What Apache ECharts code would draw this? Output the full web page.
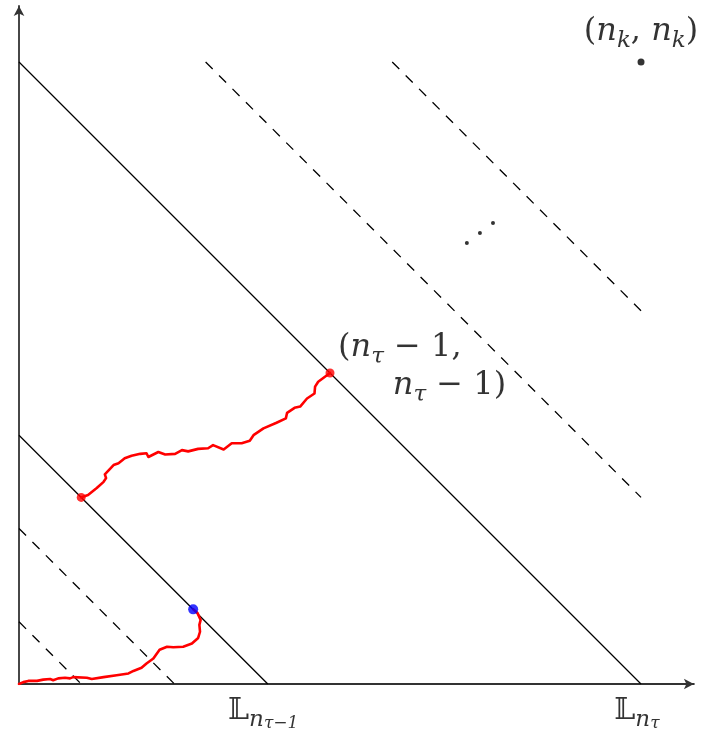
<!DOCTYPE html>
<html>
<head>
<meta charset="utf-8">
<script src="https://cdn.jsdelivr.net/npm/echarts@6.0.0/dist/echarts.min.js"></script>
<style>
html, body { margin: 0; padding: 0; background: #fff; }
#main { width: 701px; height: 736px; }
</style>
</head>
<body>
<div id="main"></div>
<script>
// units: n_tau = 10, everything lives on the lines x + y = level
var boxMax = 10;
var solidLevels = [4, 10];
var dashedLevels = [1, 2.5, 13, 16];

// red walk from the origin to the blue point
var walkLow = [[0,0],[0.07,0.03],[0.15,0.05],[0.29,0.05],[0.39,0.07],[0.50,0.08],[0.55,0.06],
  [0.63,0.09],[0.74,0.10],[0.82,0.09],[0.87,0.11],[1.09,0.10],[1.17,0.08],[1.36,0.11],
  [1.57,0.14],[1.76,0.17],[1.84,0.21],[1.97,0.26],[2.05,0.33],[2.16,0.41],[2.26,0.55],
  [2.38,0.60],[2.48,0.59],[2.64,0.60],[2.78,0.65],[2.88,0.74],[2.91,0.84],[2.90,0.95],
  [2.92,1.03],[2.87,1.14],[2.8,1.2]];

// red walk from (1,3) on L_{n_tau-1} to (n_tau-1, n_tau-1)
var walkHigh = [[1,3],[1.11,3.04],[1.25,3.15],[1.36,3.25],[1.40,3.31],[1.38,3.37],[1.52,3.52],
  [1.60,3.55],[1.70,3.63],[1.81,3.67],[1.95,3.70],[2.05,3.71],[2.08,3.65],[2.24,3.73],
  [2.35,3.69],[2.51,3.70],[2.62,3.76],[2.72,3.74],[2.88,3.78],[3.04,3.79],[3.12,3.84],
  [3.29,3.77],[3.42,3.87],[3.58,3.87],[3.71,3.91],[3.77,4.00],[3.93,4.11],[4.14,4.20],
  [4.29,4.27],[4.31,4.36],[4.43,4.44],[4.52,4.46],[4.63,4.59],[4.75,4.67],[4.76,4.78],
  [4.81,4.86],[5,5]];

var redPoints = [[1,3],[5,5]];
var bluePoints = [[2.8,1.2]];
var cornerPoints = [[10,10]];
var dotsPoints = [[7.20,7.09],[7.41,7.25],[7.62,7.41]];

// text anchors
var labelTexts = [
  '{p|(}{i|n}{s|k}{p|, }{i|n}{s|k}{p|)}',
  '{p|(}{i|n}{s|τ}{p| − 1,}',
  '{i|n}{s|τ}{p| − 1)}',
  '{L|𝕃}{s|n}{ss|τ−1}',
  '{L|𝕃}{s|n}{ss|τ}'
];
var labelPos = [[10, 10.48], [5.13, 5.40], [6.01, 4.79], [3.36, -0.43], [9.57, -0.43]];
var labelAlign = ['center', 'left', 'left', 'left', 'left'];

function levelSegment(c) {
  return [[Math.max(0, c - boxMax), Math.min(c, boxMax)], [Math.min(c, boxMax), Math.max(0, c - boxMax)]];
}

var series = [];
solidLevels.forEach(function (c) {
  series.push({
    type: 'line', data: levelSegment(c), symbol: 'none', silent: true, z: 2,
    lineStyle: { color: '#000', width: 1.3 }
  });
});
dashedLevels.forEach(function (c) {
  series.push({
    type: 'line', data: levelSegment(c), symbol: 'none', silent: true, z: 2,
    lineStyle: { color: '#000', width: 1.3, type: [10, 9] }
  });
});
[walkLow, walkHigh].forEach(function (w) {
  series.push({
    type: 'line', data: w, symbol: 'none', silent: true, z: 3,
    lineStyle: { color: '#ff0000', width: 2.6, join: 'round', cap: 'round' }
  });
});
series.push({ type: 'scatter', data: redPoints, symbolSize: 9, itemStyle: { color: '#ff0000' }, z: 4 });
series.push({ type: 'scatter', data: bluePoints, symbolSize: 10, itemStyle: { color: '#0000ff' }, z: 4 });
series.push({ type: 'scatter', data: cornerPoints, symbolSize: 7, itemStyle: { color: '#000' }, z: 4 });
series.push({ type: 'scatter', data: dotsPoints, symbolSize: 4, itemStyle: { color: '#000' }, z: 4 });

var serif = 'DejaVu Serif';
series.push({
  type: 'scatter', clip: false, symbolSize: 0, silent: true, z: 5,
  data: labelPos.map(function (p, i) {
    return { value: p, label: { formatter: labelTexts[i], align: labelAlign[i] } };
  }),
  label: {
    show: true, position: [0, 0], verticalAlign: 'middle',
    fontFamily: serif, fontSize: 32, color: '#000',
    rich: {
      p: { fontFamily: serif, fontSize: 32, lineHeight: 40, color: '#000' },
      i: { fontFamily: serif, fontStyle: 'italic', fontSize: 32, lineHeight: 40, color: '#000' },
      s: { fontFamily: serif, fontStyle: 'italic', fontSize: 23, lineHeight: 22, padding: [18, 0, 0, 0], color: '#000' },
      ss: { fontFamily: serif, fontStyle: 'italic', fontSize: 17, lineHeight: 14, padding: [26, 0, 0, 0], color: '#000' },
      L: { fontFamily: serif, fontSize: 30, lineHeight: 40, color: '#000' }
    }
  }
});

var axisCommon = {
  type: 'value', min: 0,
  axisLine: { show: true, onZero: false, symbol: ['none', 'arrow'], symbolSize: [8, 10],
    lineStyle: { color: '#333', width: 1.8 } },
  axisTick: { show: false }, axisLabel: { show: false }, splitLine: { show: false }
};

var chart = echarts.init(document.getElementById('main'));
chart.setOption({
  animation: false,
  grid: { left: 19, right: 7.1, top: 6, bottom: 52, outerBoundsMode: 'none' },
  xAxis: Object.assign({}, axisCommon, { max: 10.85 }),
  yAxis: Object.assign({}, axisCommon, { max: 10.9 }),
  series: series
});
</script>
</body>
</html>
